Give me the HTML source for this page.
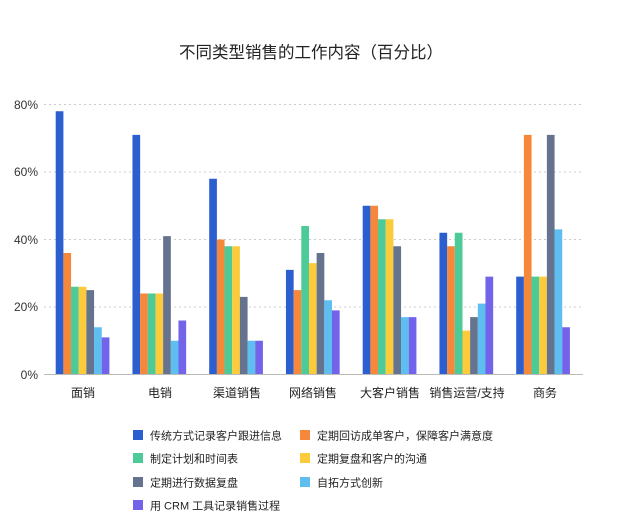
<!DOCTYPE html>
<html><head><meta charset="utf-8"><style>
body{margin:0;background:#fff;width:621px;height:521px;overflow:hidden;font-family:"Liberation Sans","Noto Sans CJK SC",sans-serif;}
</style></head><body>
<svg width="621" height="521" xmlns="http://www.w3.org/2000/svg" font-family="Liberation Sans, Noto Sans CJK SC, sans-serif">
<text x="311" y="58" text-anchor="middle" font-size="16.5" fill="#222">不同类型销售的工作内容（百分比）</text>
<g stroke="#ccc" stroke-dasharray="2,3" stroke-width="1">
<line x1="44" x2="583" y1="104.5" y2="104.5"/>
<line x1="44" x2="583" y1="172" y2="172"/>
<line x1="44" x2="583" y1="239.5" y2="239.5"/>
<line x1="44" x2="583" y1="307" y2="307"/>
</g>
<g font-size="12" fill="#333" text-anchor="end">
<text x="38" y="109">80%</text><text x="38" y="176">60%</text><text x="38" y="244">40%</text><text x="38" y="311">20%</text><text x="38" y="379">0%</text>
</g>
<g transform="translate(0,374.5) scale(1,-3.375)">
<g fill="#2b5fcf">
<rect x="55.7" y="0" width="7.7" height="78"/><rect x="132.45" y="0" width="7.7" height="71"/><rect x="209.2" y="0" width="7.7" height="58"/><rect x="285.95" y="0" width="7.7" height="31"/><rect x="362.7" y="0" width="7.7" height="50"/><rect x="439.45" y="0" width="7.7" height="42"/><rect x="516.2" y="0" width="7.7" height="29"/>
</g>
<g fill="#f5883a">
<rect x="63.37" y="0" width="7.7" height="36"/><rect x="140.12" y="0" width="7.7" height="24"/><rect x="216.87" y="0" width="7.7" height="40"/><rect x="293.62" y="0" width="7.7" height="25"/><rect x="370.37" y="0" width="7.7" height="50"/><rect x="447.12" y="0" width="7.7" height="38"/><rect x="523.87" y="0" width="7.7" height="71"/>
</g>
<g fill="#4ccb98">
<rect x="71.04" y="0" width="7.7" height="26"/><rect x="147.79" y="0" width="7.7" height="24"/><rect x="224.54" y="0" width="7.7" height="38"/><rect x="301.29" y="0" width="7.7" height="44"/><rect x="378.04" y="0" width="7.7" height="46"/><rect x="454.79" y="0" width="7.7" height="42"/><rect x="531.54" y="0" width="7.7" height="29"/>
</g>
<g fill="#fbcb3c">
<rect x="78.71" y="0" width="7.7" height="26"/><rect x="155.46" y="0" width="7.7" height="24"/><rect x="232.21" y="0" width="7.7" height="38"/><rect x="308.96" y="0" width="7.7" height="33"/><rect x="385.71" y="0" width="7.7" height="46"/><rect x="462.46" y="0" width="7.7" height="13"/><rect x="539.21" y="0" width="7.7" height="29"/>
</g>
<g fill="#66738f">
<rect x="86.38" y="0" width="7.7" height="25"/><rect x="163.13" y="0" width="7.7" height="41"/><rect x="239.88" y="0" width="7.7" height="23"/><rect x="316.63" y="0" width="7.7" height="36"/><rect x="393.38" y="0" width="7.7" height="38"/><rect x="470.13" y="0" width="7.7" height="17"/><rect x="546.88" y="0" width="7.7" height="71"/>
</g>
<g fill="#5ebef0">
<rect x="94.05" y="0" width="7.7" height="14"/><rect x="170.8" y="0" width="7.7" height="10"/><rect x="247.55" y="0" width="7.7" height="10"/><rect x="324.3" y="0" width="7.7" height="22"/><rect x="401.05" y="0" width="7.7" height="17"/><rect x="477.8" y="0" width="7.7" height="21"/><rect x="554.55" y="0" width="7.7" height="43"/>
</g>
<g fill="#7263ea">
<rect x="101.72" y="0" width="7.7" height="11"/><rect x="178.47" y="0" width="7.7" height="16"/><rect x="255.22" y="0" width="7.7" height="10"/><rect x="331.97" y="0" width="7.7" height="19"/><rect x="408.72" y="0" width="7.7" height="17"/><rect x="485.47" y="0" width="7.7" height="29"/><rect x="562.22" y="0" width="7.7" height="14"/>
</g>
</g>
<line x1="44" x2="583" y1="374.5" y2="374.5" stroke="#bbb"/>
<g font-size="12" fill="#222" text-anchor="middle">
<text x="83" y="397">面销</text><text x="160" y="397">电销</text><text x="237" y="397">渠道销售</text><text x="313" y="397">网络销售</text><text x="390" y="397">大客户销售</text><text x="467" y="397">销售运营/支持</text><text x="545" y="397">商务</text>
</g>
<g font-size="11" fill="#222">
<rect x="133" y="430" width="10" height="10" fill="#2b5fcf"/><text x="150" y="439.5">传统方式记录客户跟进信息</text>
<rect x="300" y="430" width="10" height="10" fill="#f5883a"/><text x="317" y="439.5">定期回访成单客户，保障客户满意度</text>
<rect x="133" y="453" width="10" height="10" fill="#4ccb98"/><text x="150" y="462.5">制定计划和时间表</text>
<rect x="300" y="453" width="10" height="10" fill="#fbcb3c"/><text x="317" y="462.5">定期复盘和客户的沟通</text>
<rect x="133" y="477" width="10" height="10" fill="#66738f"/><text x="150" y="486.5">定期进行数据复盘</text>
<rect x="300" y="477" width="10" height="10" fill="#5ebef0"/><text x="317" y="486.5">自拓方式创新</text>
<rect x="133" y="500" width="10" height="10" fill="#7263ea"/><text x="150" y="509.5">用 CRM 工具记录销售过程</text>
</g>
</svg>
</body></html>
